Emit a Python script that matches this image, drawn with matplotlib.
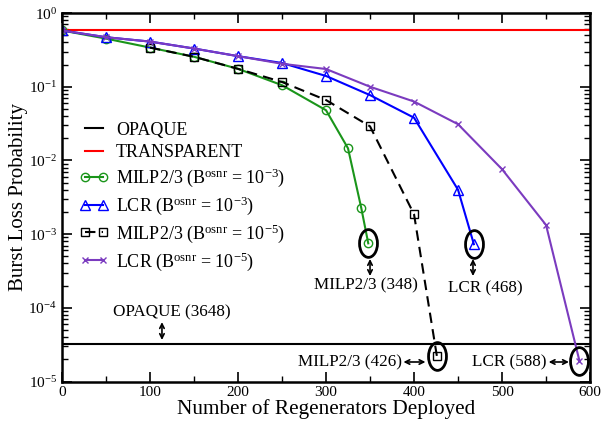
import matplotlib
matplotlib.use("Agg")
import matplotlib.pyplot as plt
import numpy as np
from matplotlib.path import Path
from matplotlib.transforms import Affine2D

plt.rcParams["font.family"] = ["Liberation Serif", "DejaVu Serif"]
plt.rcParams["mathtext.fontset"] = "custom"
plt.rcParams["mathtext.rm"] = "Liberation Serif"
plt.rcParams["mathtext.it"] = "Liberation Serif:italic"

# ---- data ----
x_milp3 = [0, 50, 100, 150, 200, 250, 300, 325, 340, 348]
milp3 = [0.58, 0.45, 0.34, 0.255, 0.175, 0.105, 0.048, 0.0146, 0.00228, 7.5e-4]

x_lcr3 = [0, 50, 100, 150, 200, 250, 300, 350, 400, 450, 468]
lcr3 = [0.58, 0.47, 0.41, 0.33, 0.26, 0.21, 0.14, 0.077, 0.038, 0.0040, 7.3e-4]

x_milp5 = [100, 150, 200, 250, 300, 350, 400, 426]
milp5 = [0.34, 0.255, 0.175, 0.116, 0.066, 0.029, 0.00186, 2.2e-5]

x_lcr5 = [0, 50, 100, 150, 200, 250, 300, 350, 400, 450, 500, 550, 588]
lcr5 = [0.58, 0.47, 0.41, 0.33, 0.26, 0.205, 0.174, 0.1, 0.063, 0.031, 0.0076, 0.00133, 1.9e-5]

transparent = 0.58
opaque = 3.2e-5

GREEN = "#1a951a"
BLUE = "#0000ff"
PURPLE = "#7b3bbf"
RED = "#ff0000"

fig = plt.figure(figsize=(6.03, 4.21), dpi=100)
ax = fig.add_axes([0.1028, 0.0938, 0.8757, 0.8752])

ax.plot([0, 600], [opaque, opaque], color="black", lw=1.5, label="OPAQUE")
ax.plot([0, 600], [transparent, transparent], color=RED, lw=1.5, label="TRANSPARENT")
ax.plot(x_milp3, milp3, color=GREEN, lw=1.5, marker="o", ms=6, mfc="none", mew=1,
        label=r"MILP2/3 (B$^{\mathrm{osnr}}$ = 10$^{-3}$)")
ax.plot(x_lcr3, lcr3, color=BLUE, lw=1.5, marker="^", ms=7, mfc="none", mew=1,
        label=r"LCR (B$^{\mathrm{osnr}}$ = 10$^{-3}$)")
ax.plot(x_milp5, milp5, color="black", lw=1.5, ls=(0, (5, 3)), marker="s", ms=5.5,
        mfc="none", mew=1, label=r"MILP2/3 (B$^{\mathrm{osnr}}$ = 10$^{-5}$)")
ax.plot(x_lcr5, lcr5, color=PURPLE, lw=1.5, marker="x", ms=5, mew=1,
        label=r"LCR (B$^{\mathrm{osnr}}$ = 10$^{-5}$)")

# ellipses round the end points
ell = Path.unit_circle().transformed(Affine2D().scale(1, 1.55))
ends_x = [x_milp3[-1], x_lcr3[-1], x_milp5[-1], x_lcr5[-1]]
ends_y = [milp3[-1], lcr3[-1], milp5[-1], lcr5[-1]]
ax.plot(ends_x, ends_y, ls="none", marker=ell, ms=20, mfc="none", mec="black", mew=2)

ax.set_yscale("log")
ax.set_xlim(0, 600)
ax.set_ylim(1e-5, 1)
ax.set_xticks([0, 100, 200, 300, 400, 500, 600])
ax.set_xticks(np.arange(50, 600, 100), minor=True)
ax.tick_params(which="both", direction="in", top=True, right=True, labelsize=11)
ax.tick_params(which="major", length=7, width=1.2)
ax.tick_params(which="minor", length=4, width=1)
for s in ax.spines.values():
    s.set_linewidth(1.8)

ax.set_xlabel("Number of Regenerators Deployed", fontsize=15.3, labelpad=0)
ax.set_ylabel("Burst Loss Probability", fontsize=15, labelpad=0)

# annotations
arr = dict(arrowstyle="<->", color="black", lw=1.2, shrinkA=0, shrinkB=0,
           mutation_scale=8)
ax.annotate("", xy=(350, 4.6e-4), xytext=(350, 2.7e-4), arrowprops=arr)
ax.annotate("", xy=(467, 4.6e-4), xytext=(467, 2.7e-4), arrowprops=arr)
ax.annotate("", xy=(113.6, 6.4e-5), xytext=(113.6, 3.66e-5), arrowprops=arr)
ax.annotate("", xy=(388, 1.84e-5), xytext=(413, 1.84e-5), arrowprops=arr)
ax.annotate("", xy=(553, 1.84e-5), xytext=(576, 1.84e-5), arrowprops=arr)

ax.text(345.5, 2.04e-4, "MILP2/3 (348)", ha="center", va="center", fontsize=12.3)
ax.text(480.7, 1.86e-4, "LCR (468)", ha="center", va="center", fontsize=12.3)
ax.text(386, 1.84e-5, "MILP2/3 (426)", ha="right", va="center", fontsize=12.3)
ax.text(551, 1.84e-5, "LCR (588)", ha="right", va="center", fontsize=12.3)
ax.text(125, 8.8e-5, "OPAQUE (3648)", ha="center", va="center", fontsize=12.3)

ax.legend(loc="upper left", bbox_to_anchor=(0.02, 0.725), frameon=False, fontsize=13,
          numpoints=2, handlelength=1.6, handletextpad=0.4, labelspacing=0.3,
          borderaxespad=0)

fig.savefig("out.png", dpi=100)
